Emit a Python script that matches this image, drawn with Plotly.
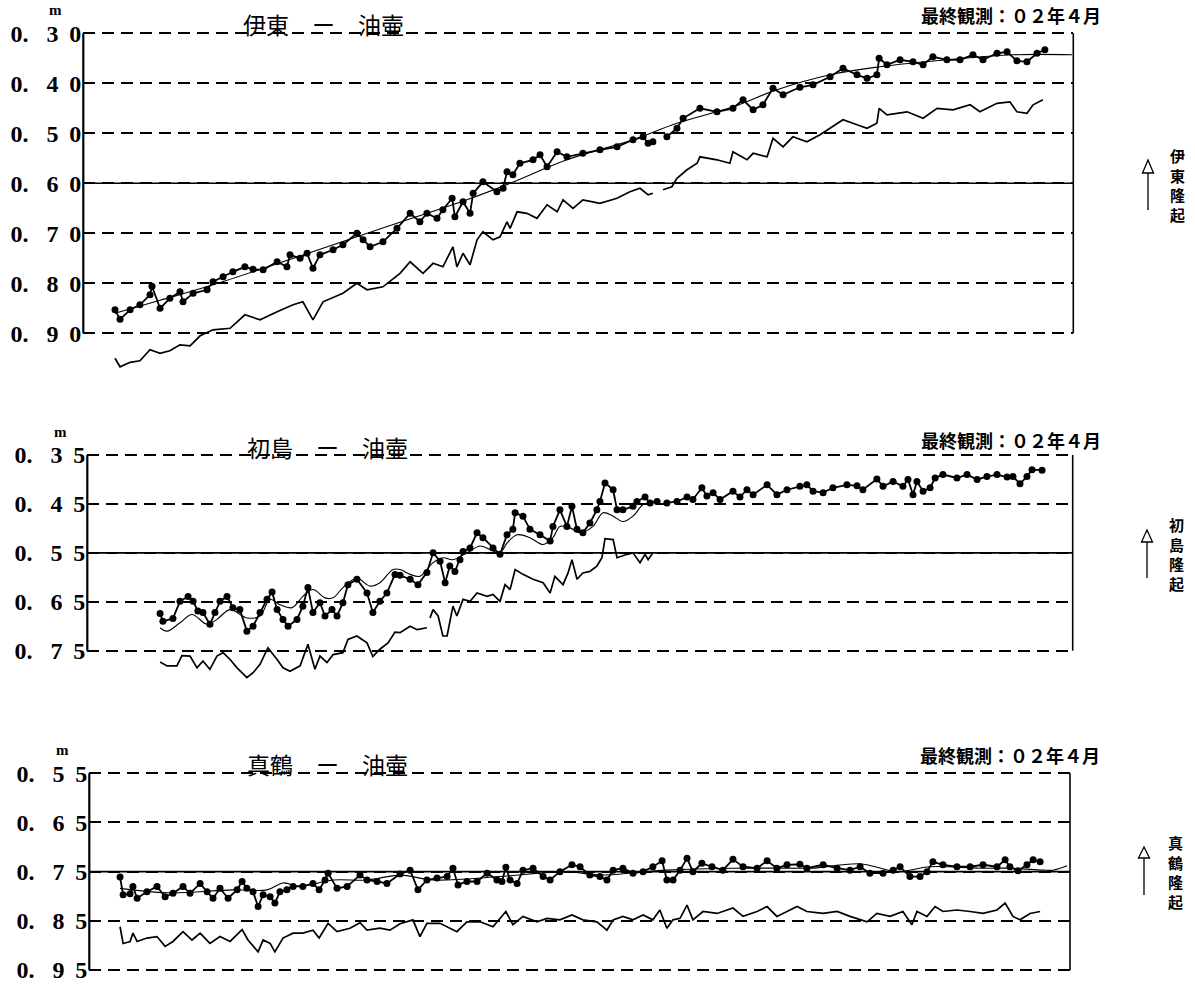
import plotly.graph_objects as go

# ---------------- data (t = years since Jan 1969, values in m) ----------------
# 伊東 - 油壷
ito_obs_t = [0.00,0.18,0.54,0.89,1.25,1.32,1.61,1.96,2.32,2.43,2.79,3.29,3.50,3.86,4.21,4.64,4.93,5.29,5.79,6.14,
             6.25,6.61,6.86,7.07,7.32,7.79,8.14,8.64,8.86,9.11,9.57,10.07,10.54,10.89,11.14,11.50,11.71,12.04,12.14,12.43,
             12.68,12.79,13.14,13.64,13.86,14.00,14.21,14.46,14.93,15.18,15.43,15.79,16.14,16.71,17.32,17.93,18.50,18.86,19.04,19.21,
             19.45,19.71,20.07,20.29,20.89,21.50,22.07,22.43,22.79,23.14,23.50,23.86,24.46,24.93,25.54,26.00,26.50,26.86,27.21,27.29,
             27.57,28.04,28.50,28.86,29.21,29.71,30.18,30.64,31.00,31.50,31.86,32.21,32.57,32.93,33.21]
ito_obs_v = [0.853,0.872,0.853,0.843,0.823,0.806,0.850,0.830,0.817,0.837,0.820,0.813,0.797,0.787,0.777,0.767,0.772,0.773,0.757,0.767,
             0.743,0.750,0.740,0.770,0.743,0.733,0.723,0.700,0.713,0.727,0.717,0.690,0.660,0.677,0.660,0.670,0.653,0.630,0.667,0.637,
             0.660,0.620,0.597,0.617,0.610,0.577,0.583,0.560,0.553,0.543,0.567,0.537,0.547,0.540,0.533,0.527,0.513,0.507,0.520,0.517,
             None,0.507,0.490,0.470,0.450,0.457,0.450,0.433,0.453,0.443,0.410,0.423,0.408,0.403,0.387,0.370,0.383,0.390,0.383,0.350,
             0.363,0.353,0.357,0.363,0.347,0.353,0.353,0.343,0.353,0.340,0.337,0.355,0.357,0.340,0.333]
ito_fit_t = [0.00,1.61,3.50,10.07,12.57,14.11,16.14,18.50,20.07,22.07,23.64,25.54,27.32,29.71,32.07,34.18]
ito_fit_v = [0.860,0.834,0.803,0.680,0.633,0.600,0.553,0.513,0.480,0.447,0.413,0.383,0.367,0.353,0.343,0.343]
ito_raw_t = [0.00,0.18,0.54,0.89,1.25,1.61,1.96,2.32,2.68,3.04,3.50,4.11,4.64,5.18,5.79,6.36,6.71,7.07,7.43,8.14,
             8.64,9.00,9.57,10.18,10.54,11.00,11.36,11.71,12.07,12.21,12.43,12.68,12.93,13.14,13.50,13.75,14.00,14.11,14.36,14.71,
             15.07,15.43,15.79,16.00,16.36,16.71,17.32,17.93,18.39,18.75,19.04,19.21,19.39,19.57,19.89,20.07,20.43,20.79,20.89,21.50,
             21.96,22.07,22.57,22.79,23.29,23.50,23.86,24.21,24.71,25.18,25.54,26.00,26.50,26.86,27.21,27.29,27.57,28.29,28.86,29.36,
             29.93,30.54,30.89,31.50,31.96,32.21,32.57,32.79,33.14]
ito_raw_v = [0.950,0.967,0.958,0.955,0.933,0.940,0.935,0.923,0.925,0.905,0.893,0.890,0.863,0.873,0.857,0.843,0.837,0.873,0.837,0.820,
             0.800,0.813,0.807,0.780,0.757,0.780,0.760,0.767,0.727,0.767,0.740,0.763,0.713,0.697,0.713,0.707,0.677,0.690,0.657,0.660,
             0.670,0.643,0.657,0.633,0.650,0.633,0.640,0.630,0.617,0.610,0.623,0.620,None,0.613,0.607,0.590,0.573,0.560,0.547,0.553,
             0.560,0.537,0.553,0.540,0.547,0.510,0.527,0.507,0.517,0.503,0.490,0.473,0.483,0.490,0.480,0.450,0.463,0.457,0.470,0.450,
             0.453,0.443,0.457,0.440,0.437,0.457,0.460,0.443,0.433]

# 初島 - 油壷
hat_obs_t = [1.61,1.71,2.07,2.32,2.61,2.79,2.96,3.14,3.39,3.57,3.75,4.00,4.21,4.46,4.71,4.93,5.18,5.43,5.61,5.79,
             6.00,6.18,6.50,6.71,6.89,7.07,7.32,7.50,7.75,7.93,8.14,8.32,8.64,9.00,9.21,9.46,9.71,10.00,10.18,10.54,
             10.82,11.14,11.36,11.61,11.79,11.96,12.14,12.32,12.43,12.68,12.93,13.14,13.50,13.75,14.00,14.21,14.29,14.57,14.82,15.18,
             15.54,15.64,15.89,16.14,16.32,16.50,16.71,16.96,17.21,17.32,17.50,17.79,17.93,18.14,18.50,18.64,18.93,19.11,19.36,19.54,
             19.71,20.07,20.43,20.64,20.96,21.14,21.36,21.61,22.07,22.32,22.57,22.79,23.29,23.64,24.00,24.46,24.71,24.93,25.29,25.64,
             26.14,26.50,26.71,27.21,27.43,27.79,28.14,28.32,28.50,28.64,28.86,29.11,29.29,29.57,30.07,30.43,30.79,31.14,31.50,31.86,
             32.07,32.32,32.57,32.75,33.11]
hat_obs_v = [0.674,0.690,0.684,0.649,0.639,0.649,0.669,0.672,0.696,0.672,0.649,0.639,0.662,0.666,0.710,0.700,0.672,0.645,0.630,0.666,
             0.686,0.700,0.686,0.659,0.621,0.672,0.652,0.679,0.666,0.679,0.652,0.615,0.604,0.632,0.672,0.649,0.632,0.594,0.596,0.604,
             0.615,0.590,0.550,0.567,0.611,0.577,0.588,0.564,0.547,0.540,0.509,0.519,0.540,0.553,0.513,0.502,0.468,0.475,0.502,0.513,
             0.526,0.496,0.462,0.496,0.455,0.502,0.509,0.489,0.462,0.445,0.407,0.421,0.462,0.462,0.455,0.445,0.436,0.448,0.445,None,
             0.448,0.445,0.436,0.441,0.417,0.434,0.427,0.441,0.424,0.436,0.421,0.431,0.411,0.431,0.421,0.414,0.411,0.424,0.427,0.417,
             0.411,0.413,0.421,0.399,0.414,0.404,0.414,0.400,0.431,0.404,0.424,0.417,0.397,0.390,0.397,0.390,0.400,0.394,0.390,0.395,
             0.394,0.409,0.394,0.380,0.381]
hat_fit_t = [1.61,1.86,2.32,2.75,3.29,3.64,4.11,4.71,5.18,5.54,5.89,6.32,6.71,7.07,7.50,7.79,8.14,8.64,9.11,9.46,
             9.93,10.18,10.54,10.89,11.36,11.71,12.07,12.57,13.04,13.39,13.75,14.00,14.36,14.82,15.29,15.64,15.89,16.25,16.61,17.07,
             17.43,17.79,18.14,18.50,18.86,19.11]
hat_fit_v = [0.703,0.710,0.693,0.676,0.696,0.686,0.666,0.683,0.679,0.645,0.656,0.662,0.639,0.625,0.642,0.642,0.621,0.602,0.618,0.611,
             0.584,0.584,0.594,0.598,0.570,0.560,0.564,0.550,0.536,0.543,0.550,0.530,0.513,0.519,0.533,0.519,0.496,0.499,0.509,0.496,
             0.468,0.475,0.486,0.475,0.451,0.448]
hat_raw_t = [1.61,1.86,2.21,2.39,2.68,2.93,3.14,3.39,3.64,3.86,4.11,4.36,4.71,4.93,5.18,5.46,5.79,6.00,6.25,6.61,
             6.89,7.14,7.32,7.57,7.79,8.14,8.32,8.64,9.00,9.21,9.46,9.75,10.00,10.18,10.54,10.79,11.14,11.20,11.25,11.36,
             11.54,11.71,11.86,12.07,12.21,12.43,12.68,12.93,13.29,13.50,13.75,13.93,14.11,14.29,14.57,14.93,15.29,15.54,15.71,15.89,
             16.00,16.18,16.32,16.50,16.71,16.96,17.21,17.39,17.50,17.79,17.93,18.29,18.50,18.75,18.93,19.04,19.21]
hat_raw_v = [0.773,0.781,0.781,0.760,0.761,0.785,0.771,0.788,0.761,0.754,0.768,0.785,0.805,0.795,0.778,0.744,0.768,0.785,0.792,0.781,
             0.737,0.788,0.761,0.774,0.758,0.754,0.727,0.720,0.734,0.762,0.747,0.734,0.712,0.713,0.700,0.707,0.703,None,0.683,0.666,
             0.679,0.720,0.720,0.659,0.679,0.645,0.649,0.632,0.639,0.635,0.649,0.615,0.625,0.584,0.594,0.604,0.611,0.632,0.598,0.608,
             0.615,0.591,0.564,0.604,0.591,0.588,0.577,0.560,0.521,0.523,0.560,0.553,0.550,0.570,0.553,0.564,0.550]

# 真鶴 - 油壷
man_obs_t = [0.18,0.29,0.54,0.64,0.79,1.14,1.50,1.79,2.07,2.43,2.68,3.04,3.29,3.50,3.75,4.04,4.36,4.54,4.71,4.93,
             5.11,5.29,5.54,5.71,5.89,6.14,6.36,6.71,7.07,7.29,7.50,7.61,7.93,8.29,8.75,9.00,9.36,9.71,10.18,10.54,
             10.82,11.14,11.50,11.86,12.07,12.25,12.57,12.93,13.29,13.64,13.82,13.96,14.11,14.36,14.57,14.93,15.29,15.54,15.89,16.32,
             16.61,16.96,17.32,17.57,17.79,18.14,18.50,18.86,19.21,19.54,19.71,19.93,20.18,20.43,20.64,20.96,21.32,21.71,22.07,22.43,
             22.93,23.29,23.64,24.00,24.46,24.71,25.29,25.79,26.25,26.61,26.96,27.43,27.79,28.04,28.39,28.75,29.00,29.21,29.57,30.07,
             30.54,31.00,31.50,31.79,31.96,32.25,32.57,32.79,33.04]
man_obs_v = [0.761,0.797,0.795,0.780,0.804,0.791,0.780,0.801,0.794,0.780,0.794,0.774,0.791,0.804,0.784,0.804,0.787,0.770,0.784,0.791,
             0.821,0.797,0.801,0.814,0.791,0.787,0.780,0.780,0.774,0.787,0.767,0.753,0.784,0.780,0.757,0.767,0.770,0.774,0.755,0.747,
             0.787,0.767,0.763,0.760,0.743,0.777,0.770,0.770,0.753,0.767,0.770,0.741,0.767,0.774,0.747,0.743,0.760,0.767,0.750,0.736,
             0.740,0.757,0.760,0.767,0.747,0.743,0.753,0.750,0.740,0.728,0.767,0.767,0.747,0.723,0.750,0.733,0.740,0.747,0.725,0.740,
             0.743,0.728,0.743,0.736,0.735,0.743,0.736,0.743,0.747,0.740,0.753,0.753,0.747,0.740,0.760,0.760,0.750,0.730,0.736,0.740,
             0.740,0.736,0.740,0.726,0.740,0.748,0.736,0.726,0.730]
man_fit_t = [0.18,1.86,4.21,5.43,6.00,6.61,7.79,9.00,10.18,11.36,13.75,16.14,17.32,19.71,22.07,24.46,24.93,26.61,27.93,29.11,
             30.89,32.07,33.14,33.50,34.00]
man_fit_v = [0.784,0.793,0.787,0.787,0.773,0.780,0.767,0.767,0.757,0.767,0.760,0.750,0.757,0.747,0.743,0.743,0.743,0.734,0.750,0.740,
             0.743,0.743,0.747,0.747,0.738]
man_raw_t = [0.18,0.29,0.54,0.64,0.79,1.14,1.50,1.79,2.07,2.43,2.75,3.04,3.39,3.75,4.11,4.54,4.75,5.11,5.29,5.54,
             5.71,6.00,6.36,6.71,7.07,7.29,7.61,7.93,8.39,8.75,9.00,9.46,9.82,10.18,10.64,10.89,11.14,11.61,12.21,12.57,
             13.04,13.50,13.96,14.21,14.57,15.07,15.43,15.89,16.32,16.71,17.21,17.57,17.79,18.14,18.50,18.86,19.21,19.46,19.71,19.93,
             20.18,20.43,20.64,21.00,21.50,22.07,22.43,22.93,23.29,23.64,24.00,24.36,24.71,25.29,25.79,26.25,26.86,27.21,27.68,28.14,
             28.46,28.64,29.00,29.29,29.57,30.07,30.54,31.00,31.50,31.79,32.07,32.32,32.68,33.04]
man_raw_v = [0.862,0.896,0.892,0.875,0.892,0.885,0.882,0.902,0.892,0.872,0.889,0.875,0.896,0.882,0.892,0.868,0.889,0.913,0.889,0.896,
             0.913,0.885,0.875,0.875,0.869,0.885,0.855,0.872,0.865,0.854,0.869,0.865,0.869,0.856,0.848,0.882,0.855,0.855,0.872,0.852,
             0.852,0.862,0.831,0.858,0.841,0.852,0.845,0.848,0.838,0.848,0.852,0.869,0.848,0.841,0.848,0.838,0.848,0.828,0.865,0.848,
             0.845,0.818,0.848,0.831,0.835,0.824,0.841,0.831,0.821,0.841,0.831,0.821,0.831,0.835,0.831,0.841,0.852,0.835,0.841,0.831,
             0.858,0.831,0.841,0.821,0.831,0.828,0.831,0.835,0.828,0.814,0.841,0.848,0.835,0.831]

titles = ["伊東　ー　油壷", "初島　ー　油壷", "真鶴　ー　油壷"]
uplift = ["伊東隆起", "初島隆起", "真鶴隆起"]
last_obs = "最終観測：０２年４月"
ticks_1 = [0.30, 0.40, 0.50, 0.60, 0.70, 0.80, 0.90]
ticks_2 = [0.35, 0.45, 0.55, 0.65, 0.75]
ticks_3 = [0.55, 0.65, 0.75, 0.85, 0.95]
base_line = [0.60, 0.55, 0.75]

# ---------------- layout geometry (pixels of the 1195x985 page) ----------------
W, H = 1195, 985
T0_PX, PX_PER_YEAR = 115.0, 28.0
NB = "\u00a0"

def fx(p):
    return p / W

def fy(p):
    return 1 - p / H

def tick_label(v):
    c = int(round(v * 100))
    return "0." + NB * 3 + str(c // 10) + NB + "\u2009" + str(c % 10)

panels = [
    dict(obs=(ito_obs_t, ito_obs_v), fit=(ito_fit_t, ito_fit_v), raw=(ito_raw_t, ito_raw_v), ticks=ticks_1,
         tick_px=(33.3, 333.3), dom_px=(15, 385), frame_px=(83.3, 1073.3), title_xy=(323, 24),
         last_xy=(1011, 15), m_xy=(55, 10), arrow=(1148, 160, 173, 210), vlab=(1177, 185)),
    dict(obs=(hat_obs_t, hat_obs_v), fit=(hat_fit_t, hat_fit_v), raw=(hat_raw_t, hat_raw_v), ticks=ticks_2,
         tick_px=(455.0, 650.7), dom_px=(428, 705), frame_px=(87.3, 1072.7), title_xy=(327, 447),
         last_xy=(1011, 440), m_xy=(60, 432), arrow=(1147, 530, 542, 578), vlab=(1176, 554)),
    dict(obs=(man_obs_t, man_obs_v), fit=(man_fit_t, man_fit_v), raw=(man_raw_t, man_raw_v), ticks=ticks_3,
         tick_px=(773.3, 970.0), dom_px=(745, 984), frame_px=(89.3, 1070.0), title_xy=(327, 764),
         last_xy=(1010, 755), m_xy=(62, 750), arrow=(1144, 847, 858, 895), vlab=(1175, 872)),
]

fig = go.Figure()
layout = dict(width=W, height=H, margin=dict(l=0, r=0, t=0, b=0), autosize=False,
              paper_bgcolor="white", plot_bgcolor="white", showlegend=False)
shapes, annotations = [], []

for i, p in enumerate(panels):
    k = "" if i == 0 else str(i + 1)
    xa, ya = "x" + k, "y" + k
    ticks = p["ticks"]
    tp0, tp1 = p["tick_px"]
    scale = (tp1 - tp0) / (ticks[-1] - ticks[0])
    d0, d1 = p["dom_px"]
    v_top = ticks[0] - (tp0 - d0) / scale
    v_bot = ticks[-1] + (d1 - tp1) / scale
    f0, f1 = p["frame_px"]
    xr = [(f0 - T0_PX) / PX_PER_YEAR + 1969, (f1 - T0_PX) / PX_PER_YEAR + 1969]

    layout["xaxis" + k] = dict(domain=[fx(f0), fx(f1)], range=xr, visible=False, anchor=ya)
    layout["yaxis" + k] = dict(
        domain=[fy(d1), fy(d0)], range=[v_bot, v_top], anchor=xa,
        tickvals=ticks, ticktext=[tick_label(v) for v in ticks],
        tickfont=dict(family="Liberation Serif", size=24, color="black", weight="bold"),
        ticks="", showline=False, zeroline=False,
        showgrid=True, gridcolor="black", gridwidth=1.6, griddash="12px,7px",
        ticklabelstandoff=1,
    )

    ot, ov = p["obs"]
    ft, fv = p["fit"]
    rt, rv = p["raw"]
    fig.add_trace(go.Scatter(x=[1969 + t for t in rt], y=rv, mode="lines", xaxis=xa, yaxis=ya,
                             line=dict(color="black", width=1.7), connectgaps=False))
    fig.add_trace(go.Scatter(x=[1969 + t for t in ft], y=fv, mode="lines", xaxis=xa, yaxis=ya,
                             line=dict(color="black", width=1.1, shape="spline", smoothing=1.0)))
    fig.add_trace(go.Scatter(x=[1969 + t for t in ot], y=ov, mode="lines+markers", xaxis=xa, yaxis=ya,
                             line=dict(color="black", width=1.8), marker=dict(color="black", size=7),
                             connectgaps=False))

    # frame: solid reference line, left axis, right border
    shapes.append(dict(type="line", xref=xa + " domain", yref=ya, x0=0, x1=1, y0=base_line[i], y1=base_line[i],
                       line=dict(color="black", width=1.6)))
    shapes.append(dict(type="line", xref=xa + " domain", yref=ya, x0=0, x1=0, y0=ticks[0], y1=ticks[-1],
                       line=dict(color="black", width=2.2)))
    shapes.append(dict(type="line", xref=xa + " domain", yref=ya, x0=1, x1=1, y0=ticks[0], y1=ticks[-1],
                       line=dict(color="black", width=1.6)))

    # uplift arrow
    ax, atip, abase, aend = p["arrow"]
    shapes.append(dict(type="path", xref="paper", yref="paper",
                       path="M {},{} L {},{} L {},{} Z".format(fx(ax), fy(atip), fx(ax - 5.5), fy(abase), fx(ax + 5.5), fy(abase)),
                       line=dict(color="black", width=1.3), fillcolor="white"))
    shapes.append(dict(type="line", xref="paper", yref="paper", x0=fx(ax), x1=fx(ax), y0=fy(abase), y1=fy(aend),
                       line=dict(color="black", width=1.3)))

    tx, ty = p["title_xy"]
    annotations.append(dict(text=titles[i], x=fx(tx), y=fy(ty), xref="paper", yref="paper", showarrow=False,
                            xanchor="center", yanchor="middle",
                            font=dict(family="Noto Sans CJK JP", size=23, color="black")))
    lx, ly = p["last_xy"]
    annotations.append(dict(text=last_obs, x=fx(lx), y=fy(ly), xref="paper", yref="paper", showarrow=False,
                            xanchor="center", yanchor="middle",
                            font=dict(family="Noto Sans CJK JP", size=18, color="black", weight="bold")))
    mx, my = p["m_xy"]
    annotations.append(dict(text="m", x=fx(mx), y=fy(my), xref="paper", yref="paper", showarrow=False,
                            xanchor="center", yanchor="middle",
                            font=dict(family="Liberation Serif", size=15, color="black", weight="bold")))
    vx, vy = p["vlab"]
    annotations.append(dict(text="<br>".join(uplift[i]), x=fx(vx), y=fy(vy), xref="paper", yref="paper",
                            showarrow=False, xanchor="center", yanchor="middle", align="center",
                            font=dict(family="Noto Sans CJK JP", size=15, color="black", weight="bold")))

layout["shapes"] = shapes
layout["annotations"] = annotations
fig.update_layout(**layout)
fig.write_html("out.html", config={"displayModeBar": False},
               post_script="document.body.style.margin='0';document.body.style.overflow='hidden';")
